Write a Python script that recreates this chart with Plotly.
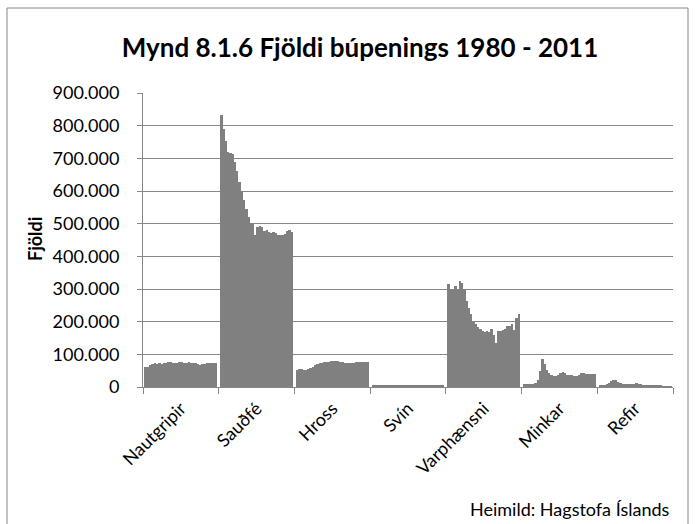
import plotly.graph_objects as go

categories = ["Nautgripir", "Sauðfé", "Hross", "Svín", "Varphænsni", "Minkar", "Refir"]
years = list(range(1980, 2012))

nautgripir = [60, 62, 67, 70, 72, 71, 72, 71, 73, 75, 77, 76, 74, 73, 75, 77,
              76, 75, 75, 76, 75, 74, 72, 70, 68, 69, 71, 72, 73, 74, 74, 73]
saudfe = [832, 790, 752, 718, 716, 712, 690, 660, 628, 600, 572, 545, 520, 502, 500, 466,
          490, 492, 490, 478, 480, 474, 472, 476, 470, 466, 464, 466, 468, 478, 482, 475]
hross = [52, 54, 54, 53, 53, 55, 58, 62, 66, 70, 72, 74, 76, 77, 78, 79,
         80, 80, 79, 78, 76, 74, 73, 73, 74, 75, 76, 76, 77, 77, 78, 78]
svin = [3.2, 3.3, 3.4, 3.5, 3.4, 3.3, 3.5, 3.6, 3.4, 3.3, 3.2, 3.3, 3.4, 3.6, 3.7, 3.8,
        3.9, 4.0, 4.1, 4.0, 3.9, 4.0, 4.1, 4.2, 4.2, 4.1, 4.0, 4.2, 4.3, 4.2, 3.9, 3.8]
varphaensni = [314, 296, 300, 308, 300, 324, 318, 300, 262, 242, 225, 200, 192, 185, 178, 172,
               168, 170, 168, 178, 160, 135, 170, 172, 175, 178, 186, 186, 192, 176, 210, 222]
minkar = [8, 8, 9, 10, 10, 12, 20, 48, 86, 70, 52, 42, 36, 34, 35, 36,
          44, 45, 42, 38, 38, 36, 35, 34, 36, 42, 42, 40, 40, 40, 40, 40]
refir = [4, 5, 6, 8, 12, 18, 20, 20, 16, 11, 9, 8, 8, 8, 9, 10,
         11, 10, 8, 7, 6, 6, 5, 5, 5, 4, 4, 4, 3, 3, 3, 3]

series = [nautgripir, saudfe, hross, svin, varphaensni, minkar, refir]

y_ticks = list(range(0, 900001, 100000))

FONT = "Lato"
GREY = "#868686"

n = len(years)
inner = 0.96
xs, ys, hover = [], [], []
for ci, vals in enumerate(series):
    for j, v in enumerate(vals):
        xs.append(ci + (1 - inner) / 2 + (j + 0.5) * inner / n)
        ys.append(v * 1000)
        hover.append(f"{categories[ci]} {years[j]}")

fig = go.Figure()
fig.add_trace(go.Bar(x=xs, y=ys, width=inner / n * 1.08, marker=dict(color="#808080", line=dict(width=0)),
                     hovertext=hover, showlegend=False))
# invisible trace for boundary tick axis
fig.add_trace(go.Scatter(x=[0, len(categories)], y=[0, 0], xaxis="x2", mode="markers",
                         marker=dict(opacity=0), showlegend=False, hoverinfo="skip"))

L, R, T, B = 143, 26, 93, 137
W, H = 699, 524
pw, ph = W - L - R, H - T - B

def px(x):
    return (x - L) / pw

def py(y):
    return (H - B - y) / ph

fig.update_layout(
    width=W, height=H,
    margin=dict(l=L, r=R, t=T, b=B),
    paper_bgcolor="white", plot_bgcolor="white",
    separators=",.",
    bargap=0,
    font=dict(family=FONT, size=18, color="#000000"),
    title=dict(text="<b>Mynd 8.1.6 Fjöldi búpenings 1980 - 2011</b>", x=360 / W, xanchor="center",
               y=1 - 48 / H, yanchor="middle", yref="container",
               font=dict(family=FONT, size=26, color="#000000")),
    xaxis=dict(range=[0, len(categories)], tickvals=[i + 0.5 for i in range(len(categories))],
               ticktext=categories, tickangle=-45, ticks="", showgrid=False, zeroline=False,
               showline=True, linecolor=GREY, linewidth=1, ticklabelstandoff=3,
               tickfont=dict(family=FONT, size=18)),
    xaxis2=dict(range=[0, len(categories)], overlaying="x", anchor="y", side="bottom",
                tickvals=list(range(len(categories) + 1)), ticks="outside", ticklen=6,
                tickcolor=GREY, tickwidth=1, showticklabels=False, showgrid=False, zeroline=False,
                showline=False),
    yaxis=dict(range=[0, 900000], tickvals=y_ticks, tickformat=",.0f", ticks="outside", ticklen=5,
               tickcolor=GREY, showgrid=True, gridcolor=GREY, gridwidth=1, zeroline=False,
               showline=True, linecolor=GREY, linewidth=1, ticklabelstandoff=14,
               tickfont=dict(family=FONT, size=18)),
    annotations=[
        dict(text="<b>Fjöldi</b>", x=px(35), y=py(239), xref="paper", yref="paper", textangle=-90,
             showarrow=False, xanchor="center", yanchor="middle", font=dict(family=FONT, size=18)),
        dict(text="Heimild: Hagstofa Íslands", x=px(672), y=py(509), xref="paper", yref="paper",
             showarrow=False, xanchor="right", yanchor="middle", font=dict(family=FONT, size=18)),
    ],
    shapes=[
        dict(type="rect", xref="paper", yref="paper", x0=px(7), x1=px(688), y0=py(540), y1=py(8),
             line=dict(color=GREY, width=1), fillcolor="rgba(0,0,0,0)", layer="below"),
    ],
)

fig.write_html("out.html", config={"displayModeBar": False})

# remove the browser's default page margin so the figure sits at the window's top-left corner
with open("out.html", encoding="utf-8") as f:
    html = f.read()
html = html.replace("<body>", '<body style="margin:0;padding:0;overflow:hidden">', 1)
with open("out.html", "w", encoding="utf-8") as f:
    f.write(html)
